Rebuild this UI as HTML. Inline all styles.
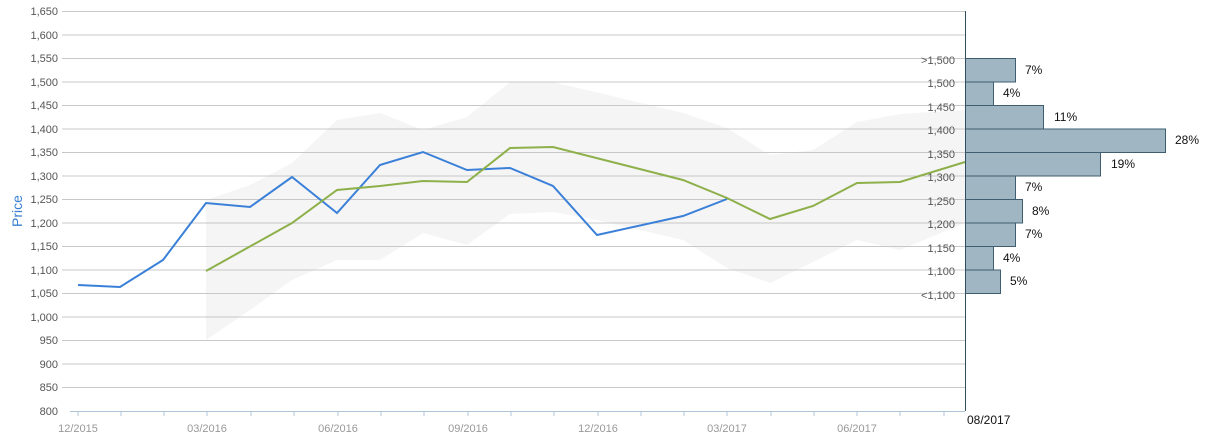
<!DOCTYPE html><html><head><style>body{margin:0;background:#fff}svg{font-family:"Liberation Sans",sans-serif}</style></head><body>
<svg width="1206" height="435" viewBox="0 0 1206 435" xmlns="http://www.w3.org/2000/svg">
<polygon fill="#f5f5f5" points="206,200 250,185 292,163 337,120 380,113 423,130 467,117 510,82 553,82 683,113 727,128 770,155 813,150 857,122 900,114 965,110 965,223 900,250 857,240 813,262 770,283 727,268 683,240 597,220 553,212 510,214 467,245 423,233 380,260 337,260 292,280 250,310 206,340"/>
<g stroke="#c8c8c8" stroke-width="1">
<line x1="62" x2="965" y1="11.5" y2="11.5"/><line x1="62" x2="965" y1="35" y2="35"/><line x1="62" x2="965" y1="58.5" y2="58.5"/><line x1="62" x2="965" y1="82" y2="82"/><line x1="62" x2="965" y1="105.5" y2="105.5"/><line x1="62" x2="965" y1="129" y2="129"/><line x1="62" x2="965" y1="152.5" y2="152.5"/><line x1="62" x2="965" y1="176" y2="176"/><line x1="62" x2="965" y1="199.5" y2="199.5"/><line x1="62" x2="965" y1="223" y2="223"/><line x1="62" x2="965" y1="246.5" y2="246.5"/><line x1="62" x2="965" y1="270" y2="270"/><line x1="62" x2="965" y1="293.5" y2="293.5"/><line x1="62" x2="965" y1="317" y2="317"/><line x1="62" x2="965" y1="340.5" y2="340.5"/><line x1="62" x2="965" y1="364" y2="364"/><line x1="62" x2="965" y1="387.5" y2="387.5"/>
</g>
<g font-size="11" fill="#555" text-anchor="end">
<text x="58" y="15">1,650</text><text x="58" y="39">1,600</text><text x="58" y="62">1,550</text><text x="58" y="86">1,500</text><text x="58" y="109">1,450</text><text x="58" y="133">1,400</text><text x="58" y="156">1,350</text><text x="58" y="180">1,300</text><text x="58" y="203">1,250</text><text x="58" y="227">1,200</text><text x="58" y="250">1,150</text><text x="58" y="274">1,100</text><text x="58" y="297">1,050</text><text x="58" y="321">1,000</text><text x="58" y="344">950</text><text x="58" y="368">900</text><text x="58" y="391">850</text><text x="58" y="415">800</text>
</g>
<text x="22" y="211" font-size="14" fill="#3a7fd0" text-anchor="middle" transform="rotate(-90 22 211)">Price</text>
<polyline fill="none" stroke="#3a80d8" stroke-width="2" points="78,285 120,287 163,260 206,203 250,207 292,177 337,213 380,165 423,152 467,170 510,168 553,186 597,235 683,216 727,199"/>
<polyline fill="none" stroke="#8db04a" stroke-width="2" points="206,271 292,223 337,190 380,186 423,181 467,182 510,148 553,147 683,180 727,198 770,219 813,206 857,183 900,182 965,162"/>
<line x1="70" x2="965" y1="411.5" y2="411.5" stroke="#b0c4d8"/>
<g stroke="#b0c4d8">
<line x1="78" x2="78" y1="411" y2="416"/><line x1="121" x2="121" y1="411" y2="416"/><line x1="164" x2="164" y1="411" y2="416"/><line x1="207" x2="207" y1="411" y2="416"/><line x1="251" x2="251" y1="411" y2="416"/><line x1="294" x2="294" y1="411" y2="416"/><line x1="338" x2="338" y1="411" y2="416"/><line x1="381" x2="381" y1="411" y2="416"/><line x1="424" x2="424" y1="411" y2="416"/><line x1="468" x2="468" y1="411" y2="416"/><line x1="511" x2="511" y1="411" y2="416"/><line x1="554" x2="554" y1="411" y2="416"/><line x1="598" x2="598" y1="411" y2="416"/><line x1="641" x2="641" y1="411" y2="416"/><line x1="684" x2="684" y1="411" y2="416"/><line x1="727" x2="727" y1="411" y2="416"/><line x1="771" x2="771" y1="411" y2="416"/><line x1="814" x2="814" y1="411" y2="416"/><line x1="857" x2="857" y1="411" y2="416"/><line x1="900" x2="900" y1="411" y2="416"/><line x1="944" x2="944" y1="411" y2="416"/>
</g>
<g font-size="11" fill="#999" text-anchor="middle">
<text x="78" y="432">12/2015</text><text x="207" y="432">03/2016</text><text x="338" y="432">06/2016</text><text x="468" y="432">09/2016</text><text x="598" y="432">12/2016</text><text x="727" y="432">03/2017</text><text x="857" y="432">06/2017</text>
</g>
<text x="967" y="424" font-size="12" fill="#111">08/2017</text>
<g fill="#a1b6c3" stroke="#3f5f70" stroke-width="1">
<rect x="965.5" y="58.5" width="50" height="23.5"/><rect x="965.5" y="82" width="28" height="23.5"/><rect x="965.5" y="105.5" width="78" height="23.5"/><rect x="965.5" y="129" width="200" height="23.5"/><rect x="965.5" y="152.5" width="135" height="23.5"/><rect x="965.5" y="176" width="50" height="23.5"/><rect x="965.5" y="199.5" width="57" height="23.5"/><rect x="965.5" y="223" width="50" height="23.5"/><rect x="965.5" y="246.5" width="28" height="23.5"/><rect x="965.5" y="270" width="35" height="23.5"/>
</g>
<line x1="965.5" x2="965.5" y1="11" y2="411" stroke="#2f4f5f" stroke-width="1"/>
<g font-size="11" fill="#555" text-anchor="end">
<text x="955" y="64">&gt;1,500</text><text x="955" y="87">1,500</text><text x="955" y="111">1,450</text><text x="955" y="134">1,400</text><text x="955" y="158">1,350</text><text x="955" y="181">1,300</text><text x="955" y="205">1,250</text><text x="955" y="228">1,200</text><text x="955" y="252">1,150</text><text x="955" y="275">1,100</text><text x="955" y="299">&lt;1,100</text>
</g>
<g font-size="12" fill="#111">
<text x="1025" y="74">7%</text><text x="1003" y="97">4%</text><text x="1054" y="121">11%</text><text x="1175" y="144">28%</text><text x="1111" y="168">19%</text><text x="1025" y="191">7%</text><text x="1032" y="215">8%</text><text x="1025" y="238">7%</text><text x="1003" y="262">4%</text><text x="1010" y="285">5%</text>
</g>
</svg>
</body></html>
